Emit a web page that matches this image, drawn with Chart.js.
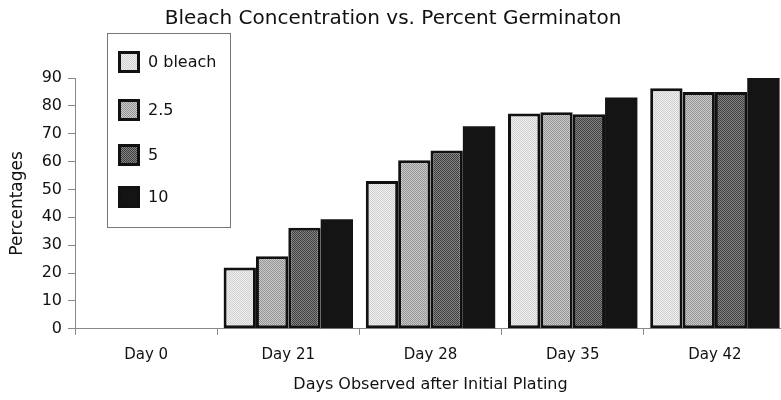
<!DOCTYPE html>
<html>
<head>
<meta charset="utf-8">
<script src="https://cdn.jsdelivr.net/npm/chart.js@4/dist/chart.umd.min.js"></script>
<style>
  html, body { margin:0; padding:0; background:#fff; overflow:hidden; }
  #wrap { position:relative; width:786px; height:400px; }
</style>
</head>
<body>
<div id="wrap"><canvas id="chart"></canvas></div>
<script>
// chart values
const days        = ['Day 0', 'Day 21', 'Day 28', 'Day 35', 'Day 42'];
const seriesNames = ['0 bleach', '2.5', '5', '10'];
const bleach0     = [0, 22, 53, 77.3, 86.3];
const bleach25    = [0, 26, 60.5, 77.7, 85];
const bleach5     = [0, 36.3, 64, 77, 85];
const bleach10    = [0, 39.3, 72.7, 83, 90];
const yTicks      = [0, 10, 20, 30, 40, 50, 60, 70, 80, 90];

const FONT = '"DejaVu Sans", Verdana, sans-serif';

// small dither patterns, like the halftone fills in the scan
function makePattern(a, b) {
  const c = document.createElement('canvas');
  c.width = 2; c.height = 2;
  const g = c.getContext('2d');
  g.fillStyle = a; g.fillRect(0, 0, 2, 2);
  g.fillStyle = b; g.fillRect(0, 0, 1, 1); g.fillRect(1, 1, 1, 1);
  return g.createPattern(c, 'repeat');
}
const fills = [
  makePattern('#eeeeee', '#d2d2d2'),
  makePattern('#cccccc', '#939393'),
  makePattern('#858585', '#3e3e3e'),
  '#141414'
];

const legendBox = {
  id: 'legendBox',
  afterDraw(chart) {
    const ctx = chart.ctx;
    ctx.save();
    ctx.fillStyle = '#fff';
    ctx.fillRect(107, 33, 123, 194);
    ctx.strokeStyle = '#777';
    ctx.lineWidth = 1;
    ctx.strokeRect(107.5, 33.5, 123, 194);
    const rows = [62, 110, 155, 197];
    ctx.font = '16px ' + FONT;
    ctx.textBaseline = 'middle';
    seriesNames.forEach((name, i) => {
      ctx.fillStyle = '#111';
      ctx.fillRect(118, rows[i] - 11, 22, 22);
      ctx.fillStyle = fills[i];
      ctx.fillRect(121, rows[i] - 8, 16, 16);
      ctx.fillStyle = '#111';
      ctx.fillText(name, 148, rows[i] + 1);
    });
    ctx.restore();
  }
};

const series = [bleach0, bleach25, bleach5, bleach10];

new Chart(document.getElementById('chart'), {
  type: 'bar',
  data: {
    labels: days,
    datasets: series.map((vals, i) => ({
      label: seriesNames[i],
      data: vals,
      backgroundColor: fills[i],
      borderColor: '#111',
      borderWidth: i === 3 ? 0 : 3,
      borderSkipped: false,
      barPercentage: 1,
      categoryPercentage: 0.91
    }))
  },
  options: {
    responsive: true,
    maintainAspectRatio: false,
    animation: false,
    layout: { padding: { left: 0, right: 0, top: 0, bottom: 6 } },
    plugins: {
      legend: { display: false },
      tooltip: { enabled: false },
      title: {
        display: true,
        text: 'Bleach Concentration vs. Percent Germinaton',
        color: '#111',
        font: { family: FONT, size: 20, weight: 'normal' },
        padding: { top: 7, bottom: 47 }
      }
    },
    scales: {
      x: {
        grid: { display: true, drawOnChartArea: false, color: '#888', tickLength: 6, offset: true },
        border: { color: '#888' },
        ticks: { color: '#111', font: { family: FONT, size: 15 }, padding: 11 },
        title: {
          display: true,
          text: 'Days Observed after Initial Plating',
          color: '#111',
          font: { family: FONT, size: 16 },
          padding: { top: 0, bottom: 0 }
        }
      },
      y: {
        min: 0,
        max: 90,
        afterBuildTicks: (s) => { s.ticks = yTicks.map(v => ({ value: v })); },
        afterFit: (s) => { s.width = 75; },
        grid: { display: true, drawOnChartArea: false, color: '#888', tickLength: 7 },
        border: { color: '#888' },
        ticks: { color: '#111', font: { family: FONT, size: 16 }, padding: 6 },
        title: {
          display: true,
          text: 'Percentages',
          color: '#111',
          font: { family: FONT, size: 17 },
          padding: { top: 7, bottom: 0 }
        }
      }
    }
  },
  plugins: [legendBox]
});
</script>
</body>
</html>
